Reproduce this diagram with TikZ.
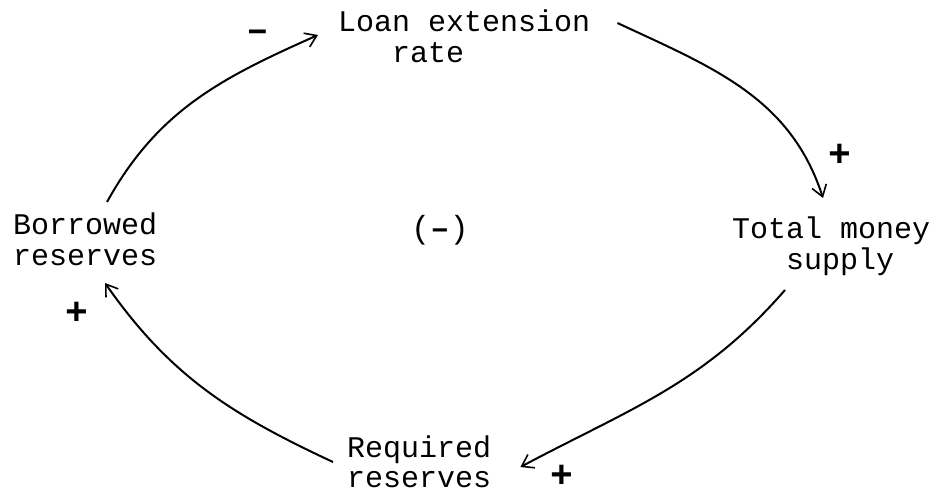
\documentclass[tikz,border=0pt]{standalone}
\usepackage{fontspec}
\setmonofont{Liberation Mono}
\usetikzlibrary{arrows.meta}
\tikzset{
  concept/.style={anchor=north west, inner sep=0pt, align=left, font=\ttfamily\fontsize{30}{31}\selectfont},
  sign/.style={inner sep=0pt, font=\ttfamily\bfseries\fontsize{38}{38}\selectfont},
  link/.style={line width=2pt, -{Straight Barb[length=11pt,width=15pt,line width=1.6pt]}},
}
\begin{document}
\begin{tikzpicture}[x=1pt,y=-1pt]
\useasboundingbox[fill=white] (0,0) rectangle (929,495);
\node[concept] (loan) at (338,10) {Loan extension\\\ \ \ rate};
\node[concept] (money) at (732,217) {Total money\\\ \ \ supply};
\node[concept] (borrowed) at (13,213) {Borrowed\\reserves};
\node[concept, font=\ttfamily\fontsize{30}{30}\selectfont] (required) at (347,436) {Required\\reserves};
\node[inner sep=0pt, font=\ttfamily\fontsize{32}{32}\selectfont] (loop) at (440,230) {(\textbf{–})};
\node[sign] (m1) at (258,36) {–};
\node[sign] (p1) at (840,155) {+};
\node[sign] (p2) at (562,476) {+};
\node[sign] (p3) at (77,313) {+};
\draw[link] ([shift={(94,-11)}]borrowed.north west) to[out=61,in=204] ([shift={(-20,25)}]loan.north west);
\draw[link] ([shift={(27,13)}]loan.north east) to[out=-25,in=108] ([shift={(91,-19)}]money.north west);
\draw[link] ([shift={(53,73)}]money.north west) to[out=229,in=28] ([shift={(29,31)}]required.north east);
\draw[link] ([shift={(-14,26)}]required.north west) to[out=155,in=-55] ([shift={(92,70)}]borrowed.north west);
\end{tikzpicture}
\end{document}
